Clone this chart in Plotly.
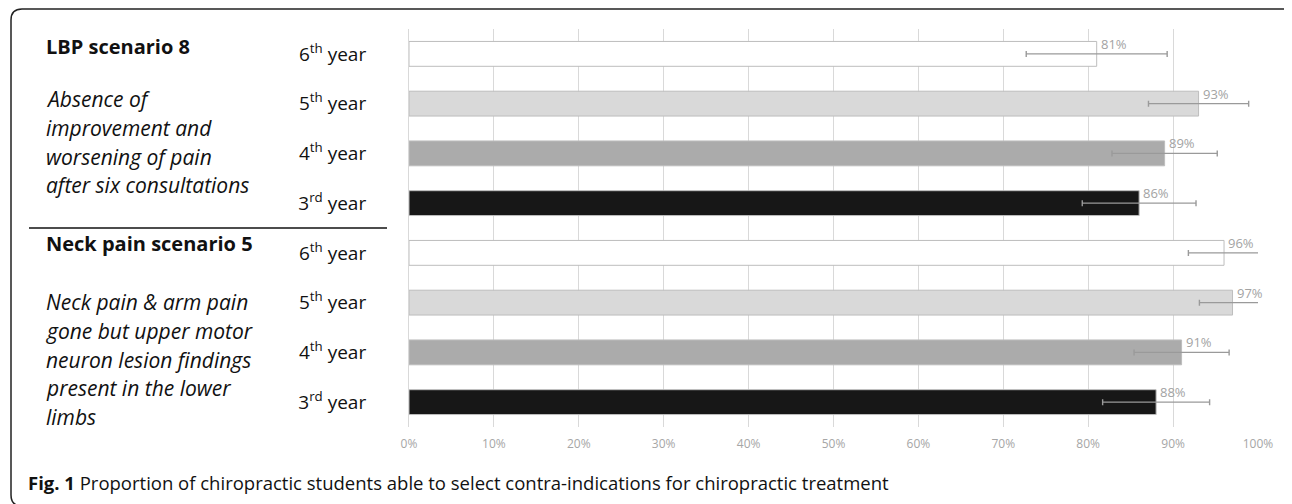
import plotly.graph_objects as go

# ---- data ----
row_keys = ["LBP 6th", "LBP 5th", "LBP 4th", "LBP 3rd",
            "Neck 6th", "Neck 5th", "Neck 4th", "Neck 3rd"]
row_labels = ["6<sup>th</sup> year", "5<sup>th</sup> year", "4<sup>th</sup> year", "3<sup>rd</sup> year",
              "6<sup>th</sup> year", "5<sup>th</sup> year", "4<sup>th</sup> year", "3<sup>rd</sup> year"]
percent = [81, 93, 89, 86, 96, 97, 91, 88]
err = [8.3, 5.9, 6.2, 6.7, 4.2, 3.9, 5.6, 6.3]
year_colors = ["#ffffff", "#d9d9d9", "#ababab", "#171717",
               "#ffffff", "#d9d9d9", "#ababab", "#171717"]
x_ticks = [0, 10, 20, 30, 40, 50, 60, 70, 80, 90, 100]
x_tick_labels = ["0%", "10%", "20%", "30%", "40%", "50%", "60%", "70%", "80%", "90%", "100%"]

scenario_titles = ["LBP scenario 8", "Neck pain scenario 5"]
scenario_lines = [
    ["Absence of", "improvement and", "worsening of pain", "after six consultations"],
    ["Neck pain & arm pain", "gone but upper motor", "neuron lesion findings",
     "present in the lower", "limbs"],
]
caption_bold = "Fig. 1"
caption_text = "Proportion of chiropractic students able to select contra-indications for chiropractic treatment"

# ---- layout geometry (screen pixels; page body has an 8px margin) ----
OFF = 8
W, H = 1292 - OFF, 504 - OFF
L, R, T, B = 409 - OFF, 1258 - OFF, 29 - OFF, 427 - OFF
FONT = "Open Sans"


def px(x):
    return (x - OFF - L) / (R - L)


def py(y):
    return (B - (y - OFF)) / (B - T)


fig = go.Figure()
fig.add_trace(go.Bar(
    y=row_keys, x=percent, orientation="h", width=0.5,
    marker=dict(color=year_colors, line=dict(color="#bdbdbd", width=1)),
    error_x=dict(type="data", array=err, arrayminus=err, color="#9a9a9a",
                 thickness=1.4, width=3),
    hoverinfo="skip", showlegend=False,
))

annotations = []
for k, v in zip(row_keys, percent):
    annotations.append(dict(x=v, y=k, xref="x", yref="y", text=f"{v}%",
                            showarrow=False, xanchor="left", yanchor="middle",
                            xshift=2, yshift=10,
                            font=dict(family=FONT, size=13, color="#a3a3a3")))

# scenario texts
title_y = [47, 243]
line_y0 = [99, 302]
for t, ty, lines, ly in zip(scenario_titles, title_y, scenario_lines, line_y0):
    annotations.append(dict(x=px(44), y=py(ty), xref="paper", yref="paper",
                            text=f"<b>{t}</b>", showarrow=False,
                            xanchor="left", yanchor="middle",
                            font=dict(family=FONT, size=20, color="#111111")))
    for i, ln in enumerate(lines):
        annotations.append(dict(x=px(44), y=py(ly + i * 28.8), xref="paper", yref="paper",
                                text=f"<i>{ln}</i>", showarrow=False,
                                xanchor="left", yanchor="middle",
                                font=dict(family=FONT, size=21, color="#111111")))

annotations.append(dict(x=px(26), y=py(482), xref="paper", yref="paper",
                        text=f"<b>{caption_bold}</b> {caption_text}", showarrow=False,
                        xanchor="left", yanchor="middle",
                        font=dict(family=FONT, size=18.5, color="#111111")))

# frame (rounded rectangle, right/bottom edges just beyond the view)
x0, y0, x1, y1, r = 11, 9, 1294, 506, 11
frame_path = (
    f"M {px(x0)},{py(y1 - r)} L {px(x0)},{py(y0 + r)} "
    f"Q {px(x0)},{py(y0)} {px(x0 + r)},{py(y0)} "
    f"L {px(x1 - r)},{py(y0)} Q {px(x1)},{py(y0)} {px(x1)},{py(y0 + r)} "
    f"L {px(x1)},{py(y1 - r)} Q {px(x1)},{py(y1)} {px(x1 - r)},{py(y1)} "
    f"L {px(x0 + r)},{py(y1)} Q {px(x0)},{py(y1)} {px(x0)},{py(y1 - r)} Z"
)
shapes = [
    dict(type="path", path=frame_path, xref="paper", yref="paper",
         line=dict(color="#222222", width=1.5), layer="above"),
    dict(type="line", x0=px(29), x1=px(387), y0=py(228), y1=py(228),
         xref="paper", yref="paper", line=dict(color="#111111", width=1.5)),
]

fig.update_layout(
    width=W, height=H,
    margin=dict(l=L, r=W - R, t=T, b=H - B, autoexpand=False),
    paper_bgcolor="white", plot_bgcolor="white",
    font=dict(family=FONT),
    bargap=0.5,
    annotations=annotations, shapes=shapes,
    xaxis=dict(range=[0, 100], tickvals=x_ticks, ticktext=x_tick_labels,
               showgrid=True, gridcolor="#d9d9d9", gridwidth=1,
               zeroline=False, showline=False, ticks="",
               tickfont=dict(family=FONT, size=12, color="#a6a6a6"),
               ticklabelstandoff=8, fixedrange=True),
    yaxis=dict(type="category", categoryorder="array", categoryarray=row_keys,
               autorange="reversed", tickvals=row_keys, ticktext=row_labels,
               showgrid=False, zeroline=False, showline=True,
               linecolor="#d9d9d9", linewidth=1, ticks="",
               ticklabelstandoff=38,
               tickfont=dict(family=FONT, size=19, color="#111111"),
               fixedrange=True),
)

fig.write_html("out.html")
